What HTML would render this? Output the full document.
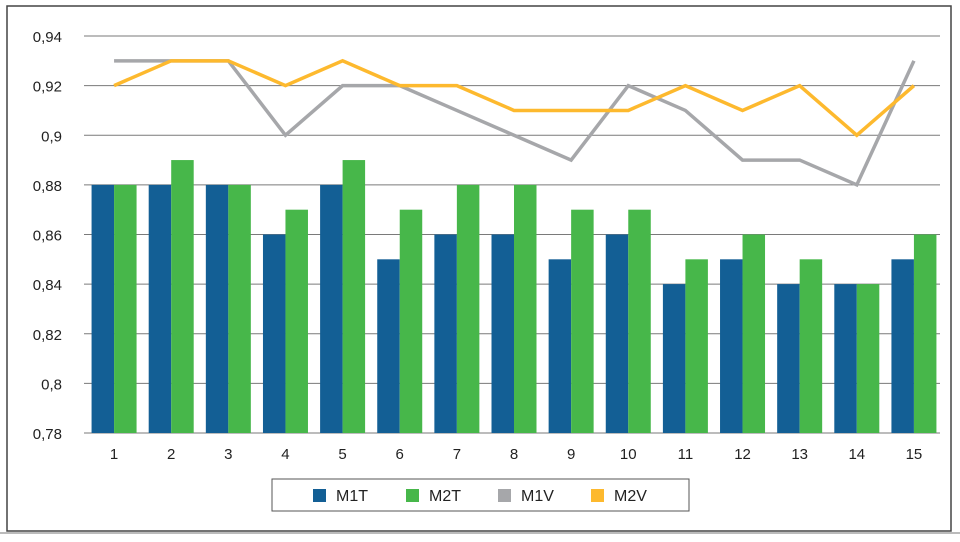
<!DOCTYPE html>
<html><head><meta charset="utf-8"><style>
body{margin:0;background:#fff;}
svg{display:block;font-family:"Liberation Sans",sans-serif;}
</style></head><body>
<svg id="chart" width="960" height="542">
<rect x="7" y="6" width="944" height="525" fill="#fff" stroke="#444" stroke-width="1.5"/>
<line x1="0" y1="533" x2="960" y2="533" stroke="#bbb" stroke-width="2"/>
<g id="grid"></g><g id="bars"></g><g id="lines"></g><g id="labels"></g>
<g>
<rect x="272" y="479" width="417" height="32" fill="#fff" stroke="#555" stroke-width="1"/>
<rect x="313" y="489" width="13" height="13" fill="#135f95"/>
<text x="336" y="501" font-size="16" fill="#222">M1T</text>
<rect x="406" y="489" width="13" height="13" fill="#47b74a"/>
<text x="429" y="501" font-size="16" fill="#222">M2T</text>
<rect x="498" y="489" width="13" height="13" fill="#a6a7aa"/>
<text x="521" y="501" font-size="16" fill="#222">M1V</text>
<rect x="591" y="489" width="13" height="13" fill="#fdb92e"/>
<text x="614" y="501" font-size="16" fill="#222">M2V</text>
</g>
</svg>
<script>
const categories=["1","2","3","4","5","6","7","8","9","10","11","12","13","14","15"];
const m1t=[0.88,0.88,0.88,0.86,0.88,0.85,0.86,0.86,0.85,0.86,0.84,0.85,0.84,0.84,0.85];
const m2t=[0.88,0.89,0.88,0.87,0.89,0.87,0.88,0.88,0.87,0.87,0.85,0.86,0.85,0.84,0.86];
const m1v=[0.93,0.93,0.93,0.90,0.92,0.92,0.91,0.90,0.89,0.92,0.91,0.89,0.89,0.88,0.93];
const m2v=[0.92,0.93,0.93,0.92,0.93,0.92,0.92,0.91,0.91,0.91,0.92,0.91,0.92,0.90,0.92];
const yTicks=[0.78,0.80,0.82,0.84,0.86,0.88,0.90,0.92,0.94];
const yTickLabels=["0,78","0,8","0,82","0,84","0,86","0,88","0,9","0,92","0,94"];
const NS="http://www.w3.org/2000/svg";
const L=85.5,R=942.5,T=36,B=433,ymin=0.78,ymax=0.94;
const step=(R-L)/categories.length;
const y=v=>B-(v-ymin)/(ymax-ymin)*(B-T);
const xc=i=>L+step*(i+0.5);
function mk(tag,attrs,parent){const e=document.createElementNS(NS,tag);for(const k in attrs)e.setAttribute(k,attrs[k]);document.getElementById(parent).appendChild(e);return e;}
yTicks.forEach((t,i)=>{
 const g=mk('line',{x1:84,x2:940,y1:y(t),y2:y(t),stroke:'#7a7a7a','stroke-width':1},'grid');
 
 
 const tx=mk('text',{x:62,y:y(t)+6,'font-size':15,'text-anchor':'end',fill:'#222'},'labels');
 tx.textContent=yTickLabels[i];
 
 
});
const bw=22.5;
categories.forEach((c,i)=>{
 const b1=mk('rect',{x:xc(i)-bw,y:y(m1t[i]),width:bw,height:B-y(m1t[i]),fill:'#135f95'},'bars');
 
 
 const b2=mk('rect',{x:xc(i),y:y(m2t[i]),width:bw,height:B-y(m2t[i]),fill:'#47b74a'},'bars');
 
 
 const tx=mk('text',{x:xc(i),y:459,'font-size':15,'text-anchor':'middle',fill:'#222'},'labels');
 tx.textContent=c;
 
 
});
const l1=mk('polyline',{points:m1v.map((v,i)=>xc(i)+','+y(v)).join(' '),fill:'none',stroke:'#a6a7aa','stroke-width':3.5},'lines');


const l2=mk('polyline',{points:m2v.map((v,i)=>xc(i)+','+y(v)).join(' '),fill:'none',stroke:'#fdb92e','stroke-width':3.5},'lines');


</script>
</body></html>
